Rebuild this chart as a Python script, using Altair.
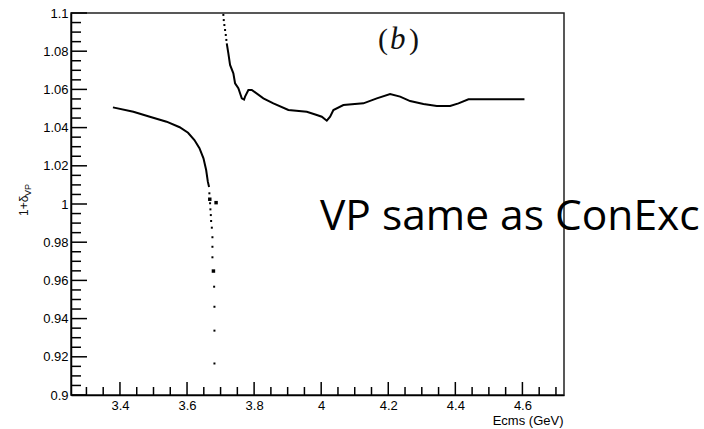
import altair as alt
import pandas as pd

# ---------------- data ----------------
# below-threshold branch (dense points drawn as a line)
left_e = [3.379, 3.440, 3.489, 3.539, 3.578, 3.603, 3.622, 3.637, 3.649, 3.657, 3.662, 3.6657]
left_v = [1.0506, 1.0483, 1.0457, 1.0431, 1.0402, 1.0373, 1.0335, 1.0292, 1.0239, 1.0178, 1.0117, 1.0089]

# sparse points falling at the psi(2S) pole
dot_e = [3.6666, 3.6687, 3.6697, 3.6709, 3.6718, 3.6739, 3.6757, 3.6757, 3.6757,
         3.6808, 3.6817, 3.6817, 3.6817]
dot_v = [1.0056, 1.0004, 0.9972, 0.9942, 0.9911, 0.9876, 0.9826, 0.9776, 0.9721,
         0.9567, 0.9462, 0.9337, 0.9165]
big_e = [3.6678, 3.6866, 3.6787]
big_v = [1.0025, 1.0007, 0.9649]

# above-threshold branch: sparse start near the top, then dense points
top_e = [3.7083, 3.7095, 3.7113, 3.7134, 3.7155, 3.7172]
top_v = [1.0990, 1.0963, 1.0937, 1.0911, 1.0885, 1.0859]

right_e = [3.7184, 3.7232, 3.7283, 3.7381, 3.7432, 3.7530, 3.7632, 3.7700, 3.7730,
           3.7829, 3.7930, 3.8276, 3.8574, 3.9022, 3.9571, 3.9869, 4.0018, 4.0167,
           4.0266, 4.0364, 4.0662, 4.1259, 4.1659, 4.2055, 4.2354, 4.2652, 4.3049,
           4.3448, 4.3845, 4.4093, 4.4391, 4.6061]
right_v = [1.0841, 1.0789, 1.0728, 1.0684, 1.0632, 1.0606, 1.0553, 1.0547, 1.0562,
           1.0597, 1.0597, 1.0553, 1.0527, 1.0492, 1.0483, 1.0466, 1.0457, 1.0436,
           1.0457, 1.0492, 1.0518, 1.0527, 1.0553, 1.0576, 1.0562, 1.0539, 1.0524,
           1.0513, 1.0513, 1.0527, 1.0548, 1.0548]

# axis ticks
x_major = [3.4, 3.6, 3.8, 4.0, 4.2, 4.4, 4.6]
x_minor = [3.3, 3.35, 3.45, 3.5, 3.55, 3.65, 3.7, 3.75, 3.85, 3.9, 3.95, 4.05, 4.1,
           4.15, 4.25, 4.3, 4.35, 4.45, 4.5, 4.55, 4.65, 4.7]
y_major = [0.9, 0.92, 0.94, 0.96, 0.98, 1.0, 1.02, 1.04, 1.06, 1.08, 1.1]
y_minor = [0.905, 0.91, 0.915, 0.925, 0.93, 0.935, 0.945, 0.95, 0.955, 0.965, 0.97,
           0.975, 0.985, 0.99, 0.995, 1.005, 1.01, 1.015, 1.025, 1.03, 1.035, 1.045,
           1.05, 1.055, 1.065, 1.07, 1.075, 1.085, 1.09, 1.095]

x_domain = [3.254, 4.724]
y_domain = [0.9, 1.1]

W, H = 493, 382
FONT = "Liberation Sans"

xaxis = alt.Axis(values=x_major, format="~g", ticks=False, tickSize=0, grid=False,
                 labelFont=FONT, labelFontSize=13, labelColor="black", labelPadding=4,
                 domainColor="black", domainWidth=1.5,
                 title="Ecms (GeV)", titleFont=FONT, titleFontSize=13,
                 titleFontWeight="normal", titleColor="black",
                 titleAlign="right", titleBaseline="alphabetic", titleX=W - 1, titleY=29)
yaxis = alt.Axis(values=y_major, format="~g", ticks=False, tickSize=0, grid=False,
                 labelFont=FONT, labelFontSize=13, labelColor="black", labelPadding=3,
                 domainColor="black", domainWidth=1.5, title=None)

xscale = alt.Scale(domain=x_domain, nice=False, zero=False)
yscale = alt.Scale(domain=y_domain, nice=False, zero=False)


def X(f):
    return alt.X(f, type="quantitative", scale=xscale, axis=xaxis)


def Y(f):
    return alt.Y(f, type="quantitative", scale=yscale, axis=yaxis)


lines_df = pd.DataFrame({
    "e": left_e + right_e,
    "v": left_v + right_v,
    "branch": ["below"] * len(left_e) + ["above"] * len(right_e),
})
dots_df = pd.DataFrame({"e": dot_e + top_e, "v": dot_v + top_v})
big_df = pd.DataFrame({"e": big_e, "v": big_v})

lines = alt.Chart(lines_df).mark_line(color="black", strokeWidth=2).encode(
    x=X("e"), y=Y("v"), detail="branch:N")
dots = alt.Chart(dots_df).mark_square(color="black", size=4, opacity=1).encode(
    x=X("e"), y=Y("v"))
bigs = alt.Chart(big_df).mark_square(color="black", size=12, opacity=1).encode(
    x=X("e"), y=Y("v"))

xmaj = alt.Chart(pd.DataFrame({"e": x_major})).mark_rule(color="black", strokeWidth=1.5).encode(
    x=X("e"), y=alt.value(H), y2=alt.value(H - 13))
xmin = alt.Chart(pd.DataFrame({"e": x_minor})).mark_rule(color="black", strokeWidth=1.5).encode(
    x=X("e"), y=alt.value(H), y2=alt.value(H - 8))
ymaj = alt.Chart(pd.DataFrame({"v": y_major})).mark_rule(color="black", strokeWidth=1.5).encode(
    y=Y("v"), x=alt.value(0), x2=alt.value(16))
ymin = alt.Chart(pd.DataFrame({"v": y_minor})).mark_rule(color="black", strokeWidth=1.5).encode(
    y=Y("v"), x=alt.value(0), x2=alt.value(10))

# y-axis title 1+delta_VP (rotated, with subscript)
ytitle = alt.Chart(pd.DataFrame({"t": ["1+δ"]})).mark_text(
    font=FONT, fontSize=12, angle=270, align="left", baseline="alphabetic", color="#111"
).encode(text="t:N", x=alt.value(-43), y=alt.value(203))
ysub = alt.Chart(pd.DataFrame({"t": ["VP"]})).mark_text(
    font=FONT, fontSize=9, angle=270, align="left", baseline="alphabetic", color="#111"
).encode(text="t:N", x=alt.value(-40), y=alt.value(183))

# panel label (b)
SERIF = "Liberation Serif"
lp = alt.Chart(pd.DataFrame({"t": ["("]})).mark_text(
    font=SERIF, fontSize=30, align="left", baseline="alphabetic", color="#111"
).encode(text="t:N", x=alt.value(307), y=alt.value(36))
lb = alt.Chart(pd.DataFrame({"t": ["b"]})).mark_text(
    font=SERIF, fontSize=31, fontStyle="italic", align="left",
    baseline="alphabetic", color="#111"
).encode(text="t:N", x=alt.value(319), y=alt.value(36))
rp = alt.Chart(pd.DataFrame({"t": [")"]})).mark_text(
    font=SERIF, fontSize=30, align="left", baseline="alphabetic", color="#111"
).encode(text="t:N", x=alt.value(338), y=alt.value(36))

note = alt.Chart(pd.DataFrame({"t": ["VP same as ConExc"]})).mark_text(
    font="Open Sans", fontSize=42.5, align="left", baseline="alphabetic", color="black"
).encode(text="t:N", x=alt.value(249), y=alt.value(217))

chart = alt.layer(
    lines, dots, bigs, xmaj, xmin, ymaj, ymin, ytitle, ysub, lp, lb, rp, note
).properties(
    width=W, height=H,
    autosize=alt.AutoSizeParams(type="none"),
    padding={"left": 71, "top": 13, "right": 140, "bottom": 34},
    background="white",
).configure_view(stroke="#222", strokeWidth=1.5)

chart.save("out.html", embed_options={"renderer": "svg", "actions": False})
